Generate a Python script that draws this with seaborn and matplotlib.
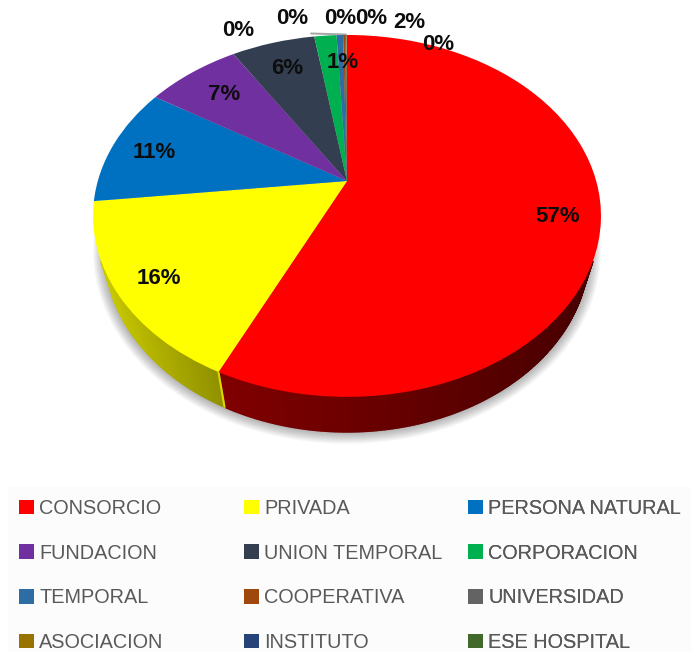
import numpy as np
import matplotlib
matplotlib.use("Agg")
import matplotlib.pyplot as plt
from matplotlib.patches import Patch, Polygon, Rectangle
from matplotlib.transforms import Transform
import seaborn as sns

# values
categories = ["CONSORCIO", "PRIVADA", "PERSONA NATURAL", "FUNDACION", "UNION TEMPORAL", "CORPORACION",
              "TEMPORAL", "COOPERATIVA", "UNIVERSIDAD", "ASOCIACION", "INSTITUTO", "ESE HOSPITAL"]
shares = [57.0, 16.2, 10.7, 7.2, 6.4, 1.7, 0.5, 0.15, 0.1, 0.03, 0.01, 0.01]
colors = ["#ff0000", "#ffff00", "#0070c0", "#7030a0", "#333f50", "#00b050",
          "#2e6da4", "#9e480e", "#636363", "#997300", "#264478", "#43682b"]
side_left = ["#800000", "#c8c800", "#00508c", "#501f75", "#22293a", "#008040",
             "#1f4f7a", "#6e3209", "#444444", "#6b5000", "#1a3054", "#2f491e"]
side_right = ["#480000", "#909000", "#00508c", "#501f75", "#22293a", "#008040",
              "#1f4f7a", "#6e3209", "#444444", "#6b5000", "#1a3054", "#2f491e"]
pct_text = ["57%", "16%", "11%", "7%", "6%", "1%", "0%", "0%", "0%", "0%", "2%", "0%"]
pct_pos = [(558, 216), (159, 278), (154, 152), (224, 94), (287, 69), (343, 62),
           (238, 31), (292, 19), (340, 19), (371, 19), (409, 23), (438, 45)]

W, H = 691, 652
APEX_X, APEX_Y = 347, 181
K, A, B = 0.193, 174.2, 249.2
DEPTH = 35
BOTTOM_NARROW = 0.953


class Tilt(Transform):
    # unit circle -> tilted disc in pixel coordinates
    input_dims = output_dims = 2

    def __init__(self, dy=0, sx=1):
        super().__init__()
        self.dy = dy
        self.sx = sx

    def transform_non_affine(self, xy):
        xy = np.asarray(xy, dtype=float)
        d = 1 + K * xy[:, 1]
        return np.column_stack([APEX_X + self.sx * B * xy[:, 0] / d, APEX_Y + self.dy - A * xy[:, 1] / d])


sns.set_theme(style="white")
plt.rcParams["font.family"] = ["Liberation Sans", "DejaVu Sans"]

fig = plt.figure(figsize=(W / 100, H / 100), dpi=100, facecolor="white")
ax = fig.add_axes([0, 0, 1, 1])

wedges, _ = ax.pie(shares, colors=colors, startangle=90, counterclock=False, radius=1)
ax.set_aspect("auto")
ax.set_xlim(0, W)
ax.set_ylim(H, 0)
ax.axis("off")
top = Tilt()
bottom = Tilt(DEPTH, BOTTOM_NARROW)
for w in wedges:
    w.set_transform(top + ax.transData)
    w.set_zorder(5)
    w.set_linewidth(0)

# soft shadow under the disc
t = np.radians(np.linspace(0, 360, 240))
ring = np.column_stack([np.cos(t), np.sin(t)])
for i in range(12):
    grow = 12 - i
    pts = bottom.transform_non_affine(ring)
    cx, cy = APEX_X, APEX_Y + 70
    pts = np.column_stack([cx + (pts[:, 0] - cx) * (1 + grow / 242), cy + (pts[:, 1] - cy) * (1 + grow / 181)])
    ax.add_patch(Polygon(pts, facecolor="#000000", alpha=0.028, lw=0, zorder=1))

# side wall, in thin strips so it can darken to the right
edges = 90 - np.cumsum([0] + shares) * 3.6
for i in range(len(shares)):
    a0, a1 = edges[i], edges[i + 1]
    steps = max(2, int(abs(a0 - a1) / 0.5))
    angs = np.radians(np.linspace(a0, a1, steps + 1))
    rim = np.column_stack([np.cos(angs), np.sin(angs)])
    rim = rim[rim[:, 1] < -0.42]
    if len(rim) < 2:
        continue
    xs = top.transform_non_affine(rim)[:, 0]
    left = np.array(matplotlib.colors.to_rgb(side_left[i]))
    right = np.array(matplotlib.colors.to_rgb(side_right[i]))
    for j in range(len(rim) - 1):
        seg = rim[j:j + 2]
        p_top = top.transform_non_affine(seg)
        p_bot = bottom.transform_non_affine(seg)
        f = (p_top[:, 0].mean() - xs.min()) / (xs.max() - xs.min())
        c = left + (right - left) * f
        ax.add_patch(Polygon(np.vstack([p_top, p_bot[::-1]]), facecolor=c, edgecolor=c, lw=1.2,
                             zorder=2, joinstyle="round"))

# thin lit edge between yellow and red side
seam = np.radians(edges[1])
seam_pts = np.array([[np.cos(seam), np.sin(seam)]])
s0, s1 = top.transform_non_affine(seam_pts)[0], bottom.transform_non_affine(seam_pts)[0]
ax.plot([s0[0], s1[0]], [s0[1], s1[1]], color="#d8d800", lw=1.5, zorder=3)

# leader line of the small slices
ax.plot([311, 346], [33.5, 34.5], color="#a6a6a6", lw=1.4, zorder=4)

for s, (x, y) in zip(pct_text, pct_pos):
    ax.text(x, y, s, ha="center", va="center", fontsize=16, fontweight="bold", color="#0d0d0d", zorder=8)

# legend, one block per column
ax.add_patch(Rectangle((8, 487), 683, 165, facecolor="#fcfcfc", lw=0, zorder=0))
handles = [Patch(facecolor=c, edgecolor="none", label=n) for c, n in zip(colors, categories)]
for col, x in enumerate([7, 232, 456]):
    leg = ax.legend(handles=handles[col::3], loc="upper left", bbox_to_anchor=(x, 487),
                    bbox_transform=ax.transData, frameon=False, fontsize=14.3, labelcolor="#595959",
                    labelspacing=1.29, handlelength=0.76, handleheight=0.76, handletextpad=0.26,
                    borderpad=0, borderaxespad=0.6)
    leg.set_zorder(9)
    ax.add_artist(leg)

fig.savefig("out.png", dpi=100)
